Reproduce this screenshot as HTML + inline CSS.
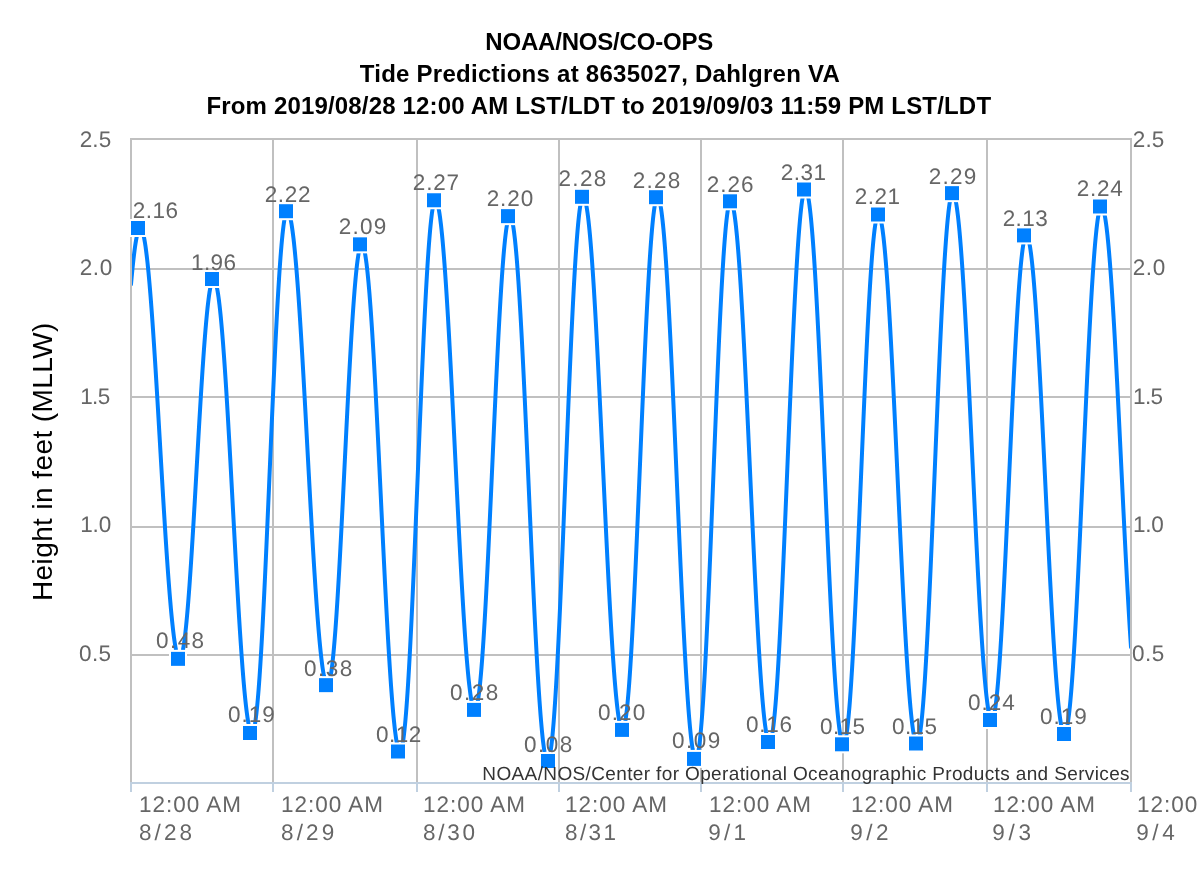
<!DOCTYPE html><html><head><meta charset="utf-8"><title>Tide Predictions at 8635027, Dahlgren VA</title><style>
html,body{margin:0;padding:0;background:#fff;width:1200px;height:874px;overflow:hidden}
svg{display:block;will-change:transform}
text{font-family:"Liberation Sans",sans-serif}
.g{text-rendering:geometricPrecision}
</style></head><body>
<svg width="1200" height="874" viewBox="0 0 1200 874">
<rect x="0" y="0" width="1200" height="874" fill="#fff"/>
<defs><clipPath id="pc"><rect x="132" y="138" width="998" height="646"/></clipPath></defs>
<rect x="130" y="138" width="1002" height="2" fill="#C0C0C0"/>
<rect x="130" y="268" width="1002" height="2" fill="#C0C0C0"/>
<rect x="130" y="396" width="1002" height="2" fill="#C0C0C0"/>
<rect x="130" y="526" width="1002" height="2" fill="#C0C0C0"/>
<rect x="130" y="654" width="1002" height="2" fill="#C0C0C0"/>
<rect x="130" y="138" width="2" height="644" fill="#C0C0C0"/>
<rect x="272" y="138" width="2" height="644" fill="#C0C0C0"/>
<rect x="416" y="138" width="2" height="644" fill="#C0C0C0"/>
<rect x="558" y="138" width="2" height="644" fill="#C0C0C0"/>
<rect x="700" y="138" width="2" height="644" fill="#C0C0C0"/>
<rect x="842" y="138" width="2" height="644" fill="#C0C0C0"/>
<rect x="986" y="138" width="2" height="644" fill="#C0C0C0"/>
<rect x="1130" y="138" width="2" height="644" fill="#C0C0C0"/>
<rect x="130" y="782" width="1002" height="2" fill="#C0D0E0"/>
<rect x="130" y="782" width="2" height="10" fill="#C0D0E0"/>
<rect x="272" y="782" width="2" height="10" fill="#C0D0E0"/>
<rect x="416" y="782" width="2" height="10" fill="#C0D0E0"/>
<rect x="558" y="782" width="2" height="10" fill="#C0D0E0"/>
<rect x="700" y="782" width="2" height="10" fill="#C0D0E0"/>
<rect x="842" y="782" width="2" height="10" fill="#C0D0E0"/>
<rect x="986" y="782" width="2" height="10" fill="#C0D0E0"/>
<rect x="1130" y="782" width="2" height="10" fill="#C0D0E0"/>
<g clip-path="url(#pc)"><path d="M131.00 284.41 L131.50 278.80 L132.00 273.44 L132.50 268.34 L133.00 263.50 L133.50 258.94 L134.00 254.67 L134.50 250.69 L135.00 247.02 L135.50 243.65 L136.00 240.59 L136.50 237.86 L137.00 235.45 L137.50 233.38 L138.00 231.63 L138.50 230.23 L139.00 229.16 L139.50 228.44 L140.00 228.06 L140.30 228.00 L140.50 228.03 L141.00 228.34 L141.50 228.99 L142.00 229.98 L142.50 231.32 L143.00 232.99 L143.50 235.00 L144.00 237.34 L144.50 240.01 L145.00 243.00 L145.50 246.31 L146.00 249.94 L146.50 253.88 L147.00 258.11 L147.50 262.65 L148.00 267.47 L148.50 272.57 L149.00 277.95 L149.50 283.59 L150.00 289.48 L150.50 295.62 L151.00 301.99 L151.50 308.59 L152.00 315.41 L152.50 322.43 L153.00 329.64 L153.50 337.03 L154.00 344.60 L154.50 352.32 L155.00 360.18 L155.50 368.18 L156.00 376.30 L156.50 384.53 L157.00 392.85 L157.50 401.25 L158.00 409.71 L158.50 418.24 L159.00 426.80 L159.50 435.38 L160.00 443.99 L160.50 452.59 L161.00 461.17 L161.50 469.73 L162.00 478.24 L162.50 486.70 L163.00 495.09 L163.50 503.40 L164.00 511.61 L164.50 519.72 L165.00 527.70 L165.50 535.55 L166.00 543.25 L166.50 550.79 L167.00 558.16 L167.50 565.35 L168.00 572.34 L168.50 579.13 L169.00 585.70 L169.50 592.05 L170.00 598.15 L170.50 604.01 L171.00 609.62 L171.50 614.96 L172.00 620.03 L172.50 624.81 L173.00 629.30 L173.50 633.50 L174.00 637.40 L174.50 640.99 L175.00 644.26 L175.50 647.21 L176.00 649.84 L176.50 652.13 L177.00 654.10 L177.50 655.73 L178.00 657.02 L178.50 657.97 L179.00 658.57 L179.50 658.84 L179.63 658.85 L180.00 658.74 L180.50 658.24 L181.00 657.34 L181.50 656.03 L182.00 654.32 L182.50 652.21 L183.00 649.71 L183.50 646.83 L184.00 643.56 L184.50 639.92 L185.00 635.92 L185.50 631.55 L186.00 626.84 L186.50 621.79 L187.00 616.42 L187.50 610.72 L188.00 604.73 L188.50 598.44 L189.00 591.88 L189.50 585.05 L190.00 577.97 L190.50 570.67 L191.00 563.14 L191.50 555.41 L192.00 547.50 L192.50 539.41 L193.00 531.18 L193.50 522.82 L194.00 514.33 L194.50 505.76 L195.00 497.10 L195.50 488.38 L196.00 479.62 L196.50 470.84 L197.00 462.05 L197.50 453.28 L198.00 444.54 L198.50 435.86 L199.00 427.24 L199.50 418.71 L200.00 410.30 L200.50 402.00 L201.00 393.85 L201.50 385.86 L202.00 378.05 L202.50 370.44 L203.00 363.03 L203.50 355.85 L204.00 348.91 L204.50 342.23 L205.00 335.82 L205.50 329.70 L206.00 323.87 L206.50 318.36 L207.00 313.17 L207.50 308.31 L208.00 303.79 L208.50 299.63 L209.00 295.83 L209.50 292.40 L210.00 289.34 L210.50 286.68 L211.00 284.40 L211.50 282.52 L212.00 281.03 L212.50 279.95 L213.00 279.28 L213.50 279.01 L213.58 279.00 L214.00 279.13 L214.50 279.64 L215.00 280.52 L215.50 281.78 L216.00 283.41 L216.50 285.42 L217.00 287.79 L217.50 290.53 L218.00 293.63 L218.50 297.08 L219.00 300.88 L219.50 305.02 L220.00 309.50 L220.50 314.31 L221.00 319.43 L221.50 324.87 L222.00 330.61 L222.50 336.64 L223.00 342.96 L223.50 349.55 L224.00 356.39 L224.50 363.49 L225.00 370.83 L225.50 378.39 L226.00 386.17 L226.50 394.14 L227.00 402.30 L227.50 410.64 L228.00 419.13 L228.50 427.77 L229.00 436.54 L229.50 445.42 L230.00 454.41 L230.50 463.48 L231.00 472.63 L231.50 481.83 L232.00 491.06 L232.50 500.33 L233.00 509.60 L233.50 518.87 L234.00 528.12 L234.50 537.33 L235.00 546.48 L235.50 555.57 L236.00 564.58 L236.50 573.49 L237.00 582.29 L237.50 590.96 L238.00 599.48 L238.50 607.85 L239.00 616.06 L239.50 624.07 L240.00 631.89 L240.50 639.50 L241.00 646.89 L241.50 654.04 L242.00 660.95 L242.50 667.60 L243.00 673.97 L243.50 680.07 L244.00 685.88 L244.50 691.38 L245.00 696.58 L245.50 701.46 L246.00 706.01 L246.50 710.23 L247.00 714.10 L247.50 717.63 L248.00 720.81 L248.50 723.63 L249.00 726.08 L249.50 728.17 L250.00 729.89 L250.50 731.23 L251.00 732.20 L251.50 732.79 L252.00 733.00 L252.03 733.00 L252.50 732.77 L253.00 732.02 L253.50 730.76 L254.00 728.98 L254.50 726.70 L255.00 723.91 L255.50 720.61 L256.00 716.83 L256.50 712.56 L257.00 707.81 L257.50 702.59 L258.00 696.92 L258.50 690.80 L259.00 684.25 L259.50 677.27 L260.00 669.89 L260.50 662.11 L261.00 653.96 L261.50 645.45 L262.00 636.59 L262.50 627.41 L263.00 617.91 L263.50 608.13 L264.00 598.08 L264.50 587.78 L265.00 577.24 L265.50 566.50 L266.00 555.58 L266.50 544.48 L267.00 533.25 L267.50 521.89 L268.00 510.43 L268.50 498.90 L269.00 487.31 L269.50 475.69 L270.00 464.07 L270.50 452.46 L271.00 440.89 L271.50 429.38 L272.00 417.96 L272.50 406.64 L273.00 395.46 L273.50 384.43 L274.00 373.57 L274.50 362.90 L275.00 352.46 L275.50 342.25 L276.00 332.30 L276.50 322.62 L277.00 313.25 L277.50 304.19 L278.00 295.46 L278.50 287.08 L279.00 279.07 L279.50 271.44 L280.00 264.21 L280.50 257.40 L281.00 251.01 L281.50 245.06 L282.00 239.56 L282.50 234.52 L283.00 229.95 L283.50 225.87 L284.00 222.27 L284.50 219.17 L285.00 216.57 L285.50 214.48 L286.00 212.90 L286.50 211.83 L287.00 211.28 L287.28 211.20 L287.50 211.23 L288.00 211.57 L288.50 212.27 L289.00 213.33 L289.50 214.75 L290.00 216.52 L290.50 218.65 L291.00 221.12 L291.50 223.95 L292.00 227.11 L292.50 230.61 L293.00 234.44 L293.50 238.60 L294.00 243.08 L294.50 247.87 L295.00 252.96 L295.50 258.35 L296.00 264.04 L296.50 270.00 L297.00 276.23 L297.50 282.73 L298.00 289.47 L298.50 296.46 L299.00 303.69 L299.50 311.13 L300.00 318.78 L300.50 326.62 L301.00 334.66 L301.50 342.86 L302.00 351.23 L302.50 359.74 L303.00 368.39 L303.50 377.16 L304.00 386.04 L304.50 395.01 L305.00 404.07 L305.50 413.19 L306.00 422.36 L306.50 431.58 L307.00 440.81 L307.50 450.07 L308.00 459.31 L308.50 468.54 L309.00 477.74 L309.50 486.90 L310.00 495.99 L310.50 505.02 L311.00 513.95 L311.50 522.79 L312.00 531.51 L312.50 540.10 L313.00 548.56 L313.50 556.86 L314.00 565.00 L314.50 572.96 L315.00 580.72 L315.50 588.29 L316.00 595.64 L316.50 602.77 L317.00 609.66 L317.50 616.31 L318.00 622.70 L318.50 628.82 L319.00 634.67 L319.50 640.24 L320.00 645.51 L320.50 650.48 L321.00 655.14 L321.50 659.49 L322.00 663.51 L322.50 667.21 L323.00 670.57 L323.50 673.60 L324.00 676.28 L324.50 678.61 L325.00 680.59 L325.50 682.22 L326.00 683.49 L326.50 684.41 L327.00 684.96 L327.50 685.15 L327.51 685.15 L328.00 684.93 L328.50 684.25 L329.00 683.11 L329.50 681.50 L330.00 679.44 L330.50 676.93 L331.00 673.97 L331.50 670.56 L332.00 666.73 L332.50 662.47 L333.00 657.79 L333.50 652.71 L334.00 647.23 L334.50 641.36 L335.00 635.13 L335.50 628.53 L336.00 621.59 L336.50 614.32 L337.00 606.73 L337.50 598.85 L338.00 590.68 L338.50 582.24 L339.00 573.56 L339.50 564.65 L340.00 555.53 L340.50 546.22 L341.00 536.74 L341.50 527.10 L342.00 517.33 L342.50 507.46 L343.00 497.49 L343.50 487.45 L344.00 477.37 L344.50 467.26 L345.00 457.14 L345.50 447.04 L346.00 436.98 L346.50 426.97 L347.00 417.05 L347.50 407.22 L348.00 397.52 L348.50 387.96 L349.00 378.56 L349.50 369.34 L350.00 360.32 L350.50 351.53 L351.00 342.97 L351.50 334.67 L352.00 326.64 L352.50 318.90 L353.00 311.47 L353.50 304.37 L354.00 297.60 L354.50 291.18 L355.00 285.13 L355.50 279.46 L356.00 274.18 L356.50 269.30 L357.00 264.83 L357.50 260.78 L358.00 257.16 L358.50 253.98 L359.00 251.25 L359.50 248.96 L360.00 247.13 L360.50 245.76 L361.00 244.85 L361.50 244.40 L361.73 244.35 L362.00 244.41 L362.50 244.85 L363.00 245.72 L363.50 247.01 L364.00 248.73 L364.50 250.87 L365.00 253.42 L365.50 256.38 L366.00 259.75 L366.50 263.52 L367.00 267.69 L367.50 272.24 L368.00 277.18 L368.50 282.48 L369.00 288.15 L369.50 294.17 L370.00 300.54 L370.50 307.23 L371.00 314.25 L371.50 321.58 L372.00 329.21 L372.50 337.12 L373.00 345.30 L373.50 353.73 L374.00 362.41 L374.50 371.32 L375.00 380.44 L375.50 389.76 L376.00 399.26 L376.50 408.93 L377.00 418.75 L377.50 428.70 L378.00 438.77 L378.50 448.93 L379.00 459.18 L379.50 469.50 L380.00 479.86 L380.50 490.25 L381.00 500.66 L381.50 511.06 L382.00 521.44 L382.50 531.78 L383.00 542.06 L383.50 552.27 L384.00 562.39 L384.50 572.40 L385.00 582.28 L385.50 592.02 L386.00 601.60 L386.50 611.01 L387.00 620.23 L387.50 629.24 L388.00 638.03 L388.50 646.58 L389.00 654.89 L389.50 662.93 L390.00 670.69 L390.50 678.16 L391.00 685.33 L391.50 692.18 L392.00 698.70 L392.50 704.89 L393.00 710.72 L393.50 716.20 L394.00 721.31 L394.50 726.05 L395.00 730.40 L395.50 734.36 L396.00 737.92 L396.50 741.08 L397.00 743.83 L397.50 746.16 L398.00 748.07 L398.50 749.57 L399.00 750.64 L399.50 751.28 L400.00 751.50 L400.00 751.50 L400.50 751.23 L401.00 750.43 L401.50 749.08 L402.00 747.19 L402.50 744.77 L403.00 741.82 L403.50 738.35 L404.00 734.36 L404.50 729.87 L405.00 724.87 L405.50 719.38 L406.00 713.42 L406.50 706.98 L407.00 700.09 L407.50 692.77 L408.00 685.01 L408.50 676.84 L409.00 668.28 L409.50 659.34 L410.00 650.03 L410.50 640.39 L411.00 630.42 L411.50 620.14 L412.00 609.59 L412.50 598.77 L413.00 587.70 L413.50 576.42 L414.00 564.94 L414.50 553.29 L415.00 541.48 L415.50 529.54 L416.00 517.50 L416.50 505.37 L417.00 493.19 L417.50 480.97 L418.00 468.75 L418.50 456.54 L419.00 444.36 L419.50 432.25 L420.00 420.22 L420.50 408.30 L421.00 396.52 L421.50 384.89 L422.00 373.44 L422.50 362.20 L423.00 351.17 L423.50 340.39 L424.00 329.88 L424.50 319.66 L425.00 309.74 L425.50 300.15 L426.00 290.91 L426.50 282.03 L427.00 273.53 L427.50 265.43 L428.00 257.74 L428.50 250.48 L429.00 243.67 L429.50 237.31 L430.00 231.42 L430.50 226.02 L431.00 221.10 L431.50 216.69 L432.00 212.79 L432.50 209.40 L433.00 206.54 L433.50 204.21 L434.00 202.41 L434.50 201.15 L435.00 200.43 L435.41 200.25 L435.50 200.26 L436.00 200.53 L436.50 201.21 L437.00 202.28 L437.50 203.76 L438.00 205.64 L438.50 207.92 L439.00 210.58 L439.50 213.64 L440.00 217.07 L440.50 220.89 L441.00 225.07 L441.50 229.62 L442.00 234.53 L442.50 239.78 L443.00 245.38 L443.50 251.31 L444.00 257.57 L444.50 264.13 L445.00 271.00 L445.50 278.17 L446.00 285.61 L446.50 293.32 L447.00 301.29 L447.50 309.50 L448.00 317.94 L448.50 326.60 L449.00 335.46 L449.50 344.51 L450.00 353.74 L450.50 363.13 L451.00 372.67 L451.50 382.33 L452.00 392.11 L452.50 401.99 L453.00 411.96 L453.50 421.99 L454.00 432.07 L454.50 442.20 L455.00 452.34 L455.50 462.48 L456.00 472.62 L456.50 482.73 L457.00 492.79 L457.50 502.79 L458.00 512.72 L458.50 522.56 L459.00 532.29 L459.50 541.89 L460.00 551.36 L460.50 560.68 L461.00 569.83 L461.50 578.80 L462.00 587.57 L462.50 596.13 L463.00 604.46 L463.50 612.57 L464.00 620.42 L464.50 628.00 L465.00 635.32 L465.50 642.35 L466.00 649.08 L466.50 655.50 L467.00 661.61 L467.50 667.39 L468.00 672.83 L468.50 677.93 L469.00 682.67 L469.50 687.05 L470.00 691.07 L470.50 694.71 L471.00 697.97 L471.50 700.84 L472.00 703.33 L472.50 705.42 L473.00 707.12 L473.50 708.41 L474.00 709.31 L474.50 709.80 L474.86 709.90 L475.00 709.88 L475.50 709.49 L476.00 708.61 L476.50 707.23 L477.00 705.37 L477.50 703.02 L478.00 700.19 L478.50 696.88 L479.00 693.10 L479.50 688.86 L480.00 684.17 L480.50 679.04 L481.00 673.47 L481.50 667.48 L482.00 661.08 L482.50 654.29 L483.00 647.11 L483.50 639.56 L484.00 631.66 L484.50 623.42 L485.00 614.85 L485.50 605.99 L486.00 596.83 L486.50 587.41 L487.00 577.74 L487.50 567.84 L488.00 557.73 L488.50 547.42 L489.00 536.95 L489.50 526.33 L490.00 515.59 L490.50 504.74 L491.00 493.80 L491.50 482.81 L492.00 471.77 L492.50 460.72 L493.00 449.67 L493.50 438.64 L494.00 427.67 L494.50 416.77 L495.00 405.96 L495.50 395.26 L496.00 384.70 L496.50 374.30 L497.00 364.08 L497.50 354.05 L498.00 344.24 L498.50 334.67 L499.00 325.36 L499.50 316.33 L500.00 307.58 L500.50 299.15 L501.00 291.05 L501.50 283.29 L502.00 275.90 L502.50 268.88 L503.00 262.24 L503.50 256.02 L504.00 250.20 L504.50 244.81 L505.00 239.86 L505.50 235.36 L506.00 231.31 L506.50 227.73 L507.00 224.62 L507.50 221.99 L508.00 219.84 L508.50 218.18 L509.00 217.01 L509.50 216.34 L509.93 216.15 L510.00 216.15 L510.50 216.45 L511.00 217.22 L511.50 218.47 L512.00 220.18 L512.50 222.36 L513.00 225.00 L513.50 228.09 L514.00 231.64 L514.50 235.64 L515.00 240.07 L515.50 244.94 L516.00 250.23 L516.50 255.93 L517.00 262.03 L517.50 268.53 L518.00 275.42 L518.50 282.67 L519.00 290.28 L519.50 298.23 L520.00 306.51 L520.50 315.11 L521.00 324.01 L521.50 333.20 L522.00 342.65 L522.50 352.36 L523.00 362.31 L523.50 372.48 L524.00 382.84 L524.50 393.39 L525.00 404.11 L525.50 414.97 L526.00 425.96 L526.50 437.06 L527.00 448.25 L527.50 459.50 L528.00 470.81 L528.50 482.15 L529.00 493.50 L529.50 504.84 L530.00 516.16 L530.50 527.42 L531.00 538.62 L531.50 549.73 L532.00 560.74 L532.50 571.62 L533.00 582.35 L533.50 592.93 L534.00 603.32 L534.50 613.51 L535.00 623.49 L535.50 633.23 L536.00 642.72 L536.50 651.94 L537.00 660.88 L537.50 669.52 L538.00 677.85 L538.50 685.84 L539.00 693.50 L539.50 700.80 L540.00 707.73 L540.50 714.28 L541.00 720.44 L541.50 726.20 L542.00 731.54 L542.50 736.46 L543.00 740.95 L543.50 745.01 L544.00 748.61 L544.50 751.77 L545.00 754.47 L545.50 756.71 L546.00 758.48 L546.50 759.79 L547.00 760.62 L547.50 760.98 L547.63 761.00 L548.00 760.85 L548.50 760.17 L549.00 758.94 L549.50 757.16 L550.00 754.83 L550.50 751.97 L551.00 748.57 L551.50 744.64 L552.00 740.20 L552.50 735.24 L553.00 729.78 L553.50 723.83 L554.00 717.41 L554.50 710.51 L555.00 703.16 L555.50 695.37 L556.00 687.16 L556.50 678.54 L557.00 669.54 L557.50 660.15 L558.00 650.42 L558.50 640.35 L559.00 629.96 L559.50 619.27 L560.00 608.32 L560.50 597.10 L561.00 585.66 L561.50 574.01 L562.00 562.17 L562.50 550.17 L563.00 538.03 L563.50 525.78 L564.00 513.43 L564.50 501.01 L565.00 488.56 L565.50 476.08 L566.00 463.61 L566.50 451.17 L567.00 438.78 L567.50 426.47 L568.00 414.26 L568.50 402.18 L569.00 390.25 L569.50 378.50 L570.00 366.94 L570.50 355.60 L571.00 344.50 L571.50 333.66 L572.00 323.11 L572.50 312.86 L573.00 302.94 L573.50 293.36 L574.00 284.14 L574.50 275.31 L575.00 266.87 L575.50 258.85 L576.00 251.26 L576.50 244.12 L577.00 237.43 L577.50 231.22 L578.00 225.49 L578.50 220.25 L579.00 215.53 L579.50 211.32 L580.00 207.63 L580.50 204.47 L581.00 201.85 L581.50 199.77 L582.00 198.24 L582.50 197.25 L583.00 196.82 L583.14 196.80 L583.50 196.91 L584.00 197.43 L584.50 198.37 L585.00 199.73 L585.50 201.51 L586.00 203.71 L586.50 206.33 L587.00 209.35 L587.50 212.78 L588.00 216.61 L588.50 220.83 L589.00 225.44 L589.50 230.43 L590.00 235.79 L590.50 241.51 L591.00 247.59 L591.50 254.01 L592.00 260.76 L592.50 267.83 L593.00 275.22 L593.50 282.91 L594.00 290.89 L594.50 299.14 L595.00 307.65 L595.50 316.41 L596.00 325.40 L596.50 334.62 L597.00 344.04 L597.50 353.65 L598.00 363.43 L598.50 373.38 L599.00 383.46 L599.50 393.68 L600.00 404.00 L600.50 414.42 L601.00 424.92 L601.50 435.48 L602.00 446.09 L602.50 456.72 L603.00 467.36 L603.50 478.00 L604.00 488.61 L604.50 499.18 L605.00 509.70 L605.50 520.14 L606.00 530.49 L606.50 540.73 L607.00 550.85 L607.50 560.83 L608.00 570.66 L608.50 580.31 L609.00 589.78 L609.50 599.05 L610.00 608.10 L610.50 616.92 L611.00 625.49 L611.50 633.81 L612.00 641.85 L612.50 649.61 L613.00 657.07 L613.50 664.23 L614.00 671.06 L614.50 677.56 L615.00 683.73 L615.50 689.54 L616.00 694.98 L616.50 700.06 L617.00 704.77 L617.50 709.09 L618.00 713.01 L618.50 716.54 L619.00 719.66 L619.50 722.38 L620.00 724.68 L620.50 726.57 L621.00 728.04 L621.50 729.08 L622.00 729.70 L622.48 729.90 L622.50 729.90 L623.00 729.61 L623.50 728.79 L624.00 727.44 L624.50 725.56 L625.00 723.15 L625.50 720.23 L626.00 716.79 L626.50 712.84 L627.00 708.39 L627.50 703.45 L628.00 698.03 L628.50 692.14 L629.00 685.79 L629.50 679.00 L630.00 671.77 L630.50 664.13 L631.00 656.08 L631.50 647.65 L632.00 638.85 L632.50 629.70 L633.00 620.22 L633.50 610.42 L634.00 600.33 L634.50 589.96 L635.00 579.34 L635.50 568.48 L636.00 557.42 L636.50 546.17 L637.00 534.75 L637.50 523.19 L638.00 511.51 L638.50 499.74 L639.00 487.89 L639.50 475.99 L640.00 464.07 L640.50 452.15 L641.00 440.25 L641.50 428.40 L642.00 416.61 L642.50 404.93 L643.00 393.35 L643.50 381.92 L644.00 370.66 L644.50 359.58 L645.00 348.70 L645.50 338.06 L646.00 327.67 L646.50 317.55 L647.00 307.73 L647.50 298.22 L648.00 289.03 L648.50 280.20 L649.00 271.74 L649.50 263.66 L650.00 255.98 L650.50 248.72 L651.00 241.88 L651.50 235.50 L652.00 229.57 L652.50 224.10 L653.00 219.12 L653.50 214.63 L654.00 210.64 L654.50 207.15 L655.00 204.18 L655.50 201.73 L656.00 199.80 L656.50 198.40 L657.00 197.54 L657.50 197.20 L657.56 197.20 L658.00 197.38 L658.50 198.03 L659.00 199.15 L659.50 200.74 L660.00 202.80 L660.50 205.32 L661.00 208.31 L661.50 211.74 L662.00 215.63 L662.50 219.95 L663.00 224.71 L663.50 229.90 L664.00 235.50 L664.50 241.52 L665.00 247.93 L665.50 254.73 L666.00 261.90 L666.50 269.44 L667.00 277.33 L667.50 285.56 L668.00 294.12 L668.50 302.98 L669.00 312.14 L669.50 321.57 L670.00 331.27 L670.50 341.22 L671.00 351.40 L671.50 361.79 L672.00 372.38 L672.50 383.14 L673.00 394.07 L673.50 405.13 L674.00 416.32 L674.50 427.61 L675.00 438.99 L675.50 450.44 L676.00 461.93 L676.50 473.44 L677.00 484.97 L677.50 496.48 L678.00 507.96 L678.50 519.40 L679.00 530.76 L679.50 542.03 L680.00 553.20 L680.50 564.24 L681.00 575.13 L681.50 585.86 L682.00 596.41 L682.50 606.76 L683.00 616.89 L683.50 626.79 L684.00 636.44 L684.50 645.82 L685.00 654.92 L685.50 663.73 L686.00 672.21 L686.50 680.38 L687.00 688.20 L687.50 695.67 L688.00 702.77 L688.50 709.49 L689.00 715.82 L689.50 721.75 L690.00 727.28 L690.50 732.38 L691.00 737.05 L691.50 741.29 L692.00 745.08 L692.50 748.43 L693.00 751.32 L693.50 753.75 L694.00 755.71 L694.50 757.21 L695.00 758.24 L695.50 758.79 L695.84 758.90 L696.00 758.87 L696.50 758.40 L697.00 757.36 L697.50 755.76 L698.00 753.59 L698.50 750.87 L699.00 747.59 L699.50 743.77 L700.00 739.40 L700.50 734.51 L701.00 729.10 L701.50 723.18 L702.00 716.77 L702.50 709.87 L703.00 702.50 L703.50 694.68 L704.00 686.42 L704.50 677.74 L705.00 668.65 L705.50 659.18 L706.00 649.35 L706.50 639.17 L707.00 628.66 L707.50 617.85 L708.00 606.76 L708.50 595.41 L709.00 583.83 L709.50 572.03 L710.00 560.05 L710.50 547.90 L711.00 535.62 L711.50 523.22 L712.00 510.73 L712.50 498.19 L713.00 485.60 L713.50 473.00 L714.00 460.42 L714.50 447.88 L715.00 435.40 L715.50 423.02 L716.00 410.75 L716.50 398.62 L717.00 386.66 L717.50 374.89 L718.00 363.33 L718.50 352.02 L719.00 340.96 L719.50 330.19 L720.00 319.72 L720.50 309.59 L721.00 299.80 L721.50 290.37 L722.00 281.34 L722.50 272.71 L723.00 264.51 L723.50 256.74 L724.00 249.43 L724.50 242.59 L725.00 236.24 L725.50 230.38 L726.00 225.04 L726.50 220.21 L727.00 215.92 L727.50 212.16 L728.00 208.96 L728.50 206.30 L729.00 204.21 L729.50 202.67 L730.00 201.71 L730.50 201.31 L730.60 201.30 L731.00 201.44 L731.50 202.02 L732.00 203.03 L732.50 204.48 L733.00 206.37 L733.50 208.69 L734.00 211.44 L734.50 214.61 L735.00 218.20 L735.50 222.21 L736.00 226.62 L736.50 231.43 L737.00 236.64 L737.50 242.23 L738.00 248.19 L738.50 254.51 L739.00 261.19 L739.50 268.22 L740.00 275.57 L740.50 283.25 L741.00 291.23 L741.50 299.51 L742.00 308.06 L742.50 316.89 L743.00 325.96 L743.50 335.28 L744.00 344.82 L744.50 354.56 L745.00 364.49 L745.50 374.60 L746.00 384.87 L746.50 395.28 L747.00 405.81 L747.50 416.45 L748.00 427.19 L748.50 437.99 L749.00 448.85 L749.50 459.74 L750.00 470.66 L750.50 481.57 L751.00 492.48 L751.50 503.34 L752.00 514.16 L752.50 524.90 L753.00 535.56 L753.50 546.12 L754.00 556.55 L754.50 566.84 L755.00 576.98 L755.50 586.95 L756.00 596.73 L756.50 606.30 L757.00 615.66 L757.50 624.78 L758.00 633.65 L758.50 642.26 L759.00 650.59 L759.50 658.62 L760.00 666.36 L760.50 673.77 L761.00 680.86 L761.50 687.60 L762.00 693.99 L762.50 700.02 L763.00 705.68 L763.50 710.95 L764.00 715.83 L764.50 720.32 L765.00 724.40 L765.50 728.07 L766.00 731.32 L766.50 734.14 L767.00 736.54 L767.50 738.51 L768.00 740.04 L768.50 741.13 L769.00 741.79 L769.49 742.00 L769.50 742.00 L770.00 741.73 L770.50 740.92 L771.00 739.60 L771.50 737.74 L772.00 735.37 L772.50 732.48 L773.00 729.08 L773.50 725.17 L774.00 720.77 L774.50 715.88 L775.00 710.51 L775.50 704.67 L776.00 698.37 L776.50 691.63 L777.00 684.46 L777.50 676.87 L778.00 668.87 L778.50 660.48 L779.00 651.72 L779.50 642.61 L780.00 633.16 L780.50 623.38 L781.00 613.31 L781.50 602.95 L782.00 592.33 L782.50 581.46 L783.00 570.38 L783.50 559.09 L784.00 547.63 L784.50 536.00 L785.00 524.25 L785.50 512.38 L786.00 500.42 L786.50 488.40 L787.00 476.33 L787.50 464.24 L788.00 452.16 L788.50 440.10 L789.00 428.09 L789.50 416.16 L790.00 404.31 L790.50 392.59 L791.00 381.00 L791.50 369.58 L792.00 358.34 L792.50 347.31 L793.00 336.51 L793.50 325.95 L794.00 315.66 L794.50 305.66 L795.00 295.96 L795.50 286.59 L796.00 277.56 L796.50 268.89 L797.00 260.60 L797.50 252.70 L798.00 245.21 L798.50 238.15 L799.00 231.52 L799.50 225.33 L800.00 219.61 L800.50 214.36 L801.00 209.59 L801.50 205.31 L802.00 201.53 L802.50 198.25 L803.00 195.49 L803.50 193.25 L804.00 191.52 L804.50 190.33 L805.00 189.66 L805.38 189.50 L805.50 189.51 L806.00 189.86 L806.50 190.68 L807.00 191.96 L807.50 193.72 L808.00 195.94 L808.50 198.62 L809.00 201.76 L809.50 205.35 L810.00 209.39 L810.50 213.86 L811.00 218.77 L811.50 224.10 L812.00 229.84 L812.50 235.98 L813.00 242.52 L813.50 249.44 L814.00 256.73 L814.50 264.38 L815.00 272.38 L815.50 280.70 L816.00 289.34 L816.50 298.29 L817.00 307.52 L817.50 317.02 L818.00 326.78 L818.50 336.77 L819.00 346.99 L819.50 357.41 L820.00 368.02 L820.50 378.80 L821.00 389.72 L821.50 400.78 L822.00 411.95 L822.50 423.22 L823.00 434.56 L823.50 445.95 L824.00 457.38 L824.50 468.82 L825.00 480.27 L825.50 491.69 L826.00 503.06 L826.50 514.38 L827.00 525.61 L827.50 536.75 L828.00 547.77 L828.50 558.64 L829.00 569.37 L829.50 579.91 L830.00 590.27 L830.50 600.41 L831.00 610.33 L831.50 620.01 L832.00 629.42 L832.50 638.55 L833.00 647.40 L833.50 655.93 L834.00 664.15 L834.50 672.03 L835.00 679.56 L835.50 686.73 L836.00 693.52 L836.50 699.93 L837.00 705.94 L837.50 711.54 L838.00 716.73 L838.50 721.49 L839.00 725.82 L839.50 729.70 L840.00 733.14 L840.50 736.13 L841.00 738.66 L841.50 740.72 L842.00 742.32 L842.50 743.45 L843.00 744.11 L843.45 744.30 L843.50 744.30 L844.00 743.97 L844.50 743.11 L845.00 741.72 L845.50 739.80 L846.00 737.34 L846.50 734.37 L847.00 730.88 L847.50 726.88 L848.00 722.38 L848.50 717.39 L849.00 711.91 L849.50 705.97 L850.00 699.56 L850.50 692.71 L851.00 685.43 L851.50 677.73 L852.00 669.63 L852.50 661.15 L853.00 652.30 L853.50 643.09 L854.00 633.56 L854.50 623.71 L855.00 613.57 L855.50 603.16 L856.00 592.50 L856.50 581.61 L857.00 570.51 L857.50 559.23 L858.00 547.79 L858.50 536.21 L859.00 524.51 L859.50 512.72 L860.00 500.87 L860.50 488.97 L861.00 477.05 L861.50 465.13 L862.00 453.25 L862.50 441.42 L863.00 429.66 L863.50 418.01 L864.00 406.48 L864.50 395.10 L865.00 383.89 L865.50 372.87 L866.00 362.07 L866.50 351.50 L867.00 341.19 L867.50 331.17 L868.00 321.44 L868.50 312.04 L869.00 302.97 L869.50 294.26 L870.00 285.92 L870.50 277.98 L871.00 270.44 L871.50 263.33 L872.00 256.66 L872.50 250.43 L873.00 244.67 L873.50 239.39 L874.00 234.59 L874.50 230.28 L875.00 226.48 L875.50 223.19 L876.00 220.43 L876.50 218.18 L877.00 216.47 L877.50 215.28 L878.00 214.63 L878.36 214.50 L878.50 214.52 L879.00 214.86 L879.50 215.65 L880.00 216.87 L880.50 218.52 L881.00 220.61 L881.50 223.12 L882.00 226.06 L882.50 229.41 L883.00 233.18 L883.50 237.36 L884.00 241.94 L884.50 246.90 L885.00 252.26 L885.50 257.99 L886.00 264.08 L886.50 270.53 L887.00 277.33 L887.50 284.46 L888.00 291.91 L888.50 299.67 L889.00 307.73 L889.50 316.07 L890.00 324.69 L890.50 333.56 L891.00 342.66 L891.50 352.00 L892.00 361.54 L892.50 371.28 L893.00 381.20 L893.50 391.28 L894.00 401.51 L894.50 411.86 L895.00 422.32 L895.50 432.88 L896.00 443.52 L896.50 454.21 L897.00 464.95 L897.50 475.70 L898.00 486.47 L898.50 497.22 L899.00 507.94 L899.50 518.61 L900.00 529.22 L900.50 539.74 L901.00 550.17 L901.50 560.47 L902.00 570.64 L902.50 580.66 L903.00 590.51 L903.50 600.18 L904.00 609.65 L904.50 618.89 L905.00 627.91 L905.50 636.68 L906.00 645.19 L906.50 653.43 L907.00 661.37 L907.50 669.02 L908.00 676.34 L908.50 683.35 L909.00 690.01 L909.50 696.32 L910.00 702.28 L910.50 707.86 L911.00 713.07 L911.50 717.89 L912.00 722.31 L912.50 726.33 L913.00 729.94 L913.50 733.13 L914.00 735.90 L914.50 738.25 L915.00 740.17 L915.50 741.66 L916.00 742.71 L916.50 743.32 L916.95 743.50 L917.00 743.50 L917.50 743.18 L918.00 742.33 L918.50 740.96 L919.00 739.06 L919.50 736.63 L920.00 733.69 L920.50 730.24 L921.00 726.28 L921.50 721.82 L922.00 716.88 L922.50 711.45 L923.00 705.56 L923.50 699.21 L924.00 692.41 L924.50 685.19 L925.00 677.54 L925.50 669.49 L926.00 661.05 L926.50 652.24 L927.00 643.07 L927.50 633.57 L928.00 623.75 L928.50 613.63 L929.00 603.23 L929.50 592.57 L930.00 581.67 L930.50 570.55 L931.00 559.23 L931.50 547.74 L932.00 536.10 L932.50 524.32 L933.00 512.44 L933.50 500.47 L934.00 488.44 L934.50 476.37 L935.00 464.28 L935.50 452.20 L936.00 440.16 L936.50 428.16 L937.00 416.25 L937.50 404.44 L938.00 392.74 L938.50 381.20 L939.00 369.82 L939.50 358.64 L940.00 347.66 L940.50 336.92 L941.00 326.43 L941.50 316.21 L942.00 306.29 L942.50 296.68 L943.00 287.40 L943.50 278.47 L944.00 269.91 L944.50 261.73 L945.00 253.95 L945.50 246.58 L946.00 239.64 L946.50 233.14 L947.00 227.09 L947.50 221.51 L948.00 216.41 L948.50 211.79 L949.00 207.67 L949.50 204.04 L950.00 200.93 L950.50 198.34 L951.00 196.26 L951.50 194.71 L952.00 193.69 L952.50 193.20 L952.71 193.15 L953.00 193.22 L953.50 193.68 L954.00 194.56 L954.50 195.86 L955.00 197.58 L955.50 199.72 L956.00 202.28 L956.50 205.25 L957.00 208.62 L957.50 212.39 L958.00 216.56 L958.50 221.12 L959.00 226.05 L959.50 231.36 L960.00 237.03 L960.50 243.05 L961.00 249.42 L961.50 256.13 L962.00 263.15 L962.50 270.49 L963.00 278.13 L963.50 286.06 L964.00 294.26 L964.50 302.73 L965.00 311.44 L965.50 320.39 L966.00 329.56 L966.50 338.93 L967.00 348.49 L967.50 358.23 L968.00 368.13 L968.50 378.17 L969.00 388.33 L969.50 398.61 L970.00 408.98 L970.50 419.42 L971.00 429.93 L971.50 440.48 L972.00 451.05 L972.50 461.63 L973.00 472.21 L973.50 482.76 L974.00 493.27 L974.50 503.72 L975.00 514.09 L975.50 524.37 L976.00 534.54 L976.50 544.58 L977.00 554.49 L977.50 564.23 L978.00 573.80 L978.50 583.18 L979.00 592.36 L979.50 601.32 L980.00 610.04 L980.50 618.52 L981.00 626.73 L981.50 634.67 L982.00 642.33 L982.50 649.68 L983.00 656.72 L983.50 663.44 L984.00 669.82 L984.50 675.86 L985.00 681.55 L985.50 686.87 L986.00 691.82 L986.50 696.40 L987.00 700.58 L987.50 704.37 L988.00 707.76 L988.50 710.75 L989.00 713.32 L989.50 715.48 L990.00 717.22 L990.50 718.55 L991.00 719.44 L991.50 719.92 L991.81 720.00 L992.00 719.96 L992.50 719.52 L993.00 718.58 L993.50 717.14 L994.00 715.20 L994.50 712.77 L995.00 709.85 L995.50 706.46 L996.00 702.59 L996.50 698.26 L997.00 693.46 L997.50 688.23 L998.00 682.56 L998.50 676.46 L999.00 669.95 L999.50 663.04 L1000.00 655.76 L1000.50 648.10 L1001.00 640.09 L1001.50 631.74 L1002.00 623.08 L1002.50 614.11 L1003.00 604.86 L1003.50 595.35 L1004.00 585.60 L1004.50 575.62 L1005.00 565.44 L1005.50 555.08 L1006.00 544.55 L1006.50 533.89 L1007.00 523.12 L1007.50 512.25 L1008.00 501.30 L1008.50 490.31 L1009.00 479.29 L1009.50 468.27 L1010.00 457.27 L1010.50 446.31 L1011.00 435.42 L1011.50 424.61 L1012.00 413.92 L1012.50 403.35 L1013.00 392.94 L1013.50 382.71 L1014.00 372.67 L1014.50 362.85 L1015.00 353.26 L1015.50 343.94 L1016.00 334.89 L1016.50 326.13 L1017.00 317.69 L1017.50 309.58 L1018.00 301.82 L1018.50 294.42 L1019.00 287.41 L1019.50 280.78 L1020.00 274.57 L1020.50 268.77 L1021.00 263.40 L1021.50 258.48 L1022.00 254.02 L1022.50 250.01 L1023.00 246.48 L1023.50 243.42 L1024.00 240.85 L1024.50 238.77 L1025.00 237.19 L1025.50 236.10 L1026.00 235.51 L1026.34 235.40 L1026.50 235.42 L1027.00 235.77 L1027.50 236.55 L1028.00 237.74 L1028.50 239.36 L1029.00 241.39 L1029.50 243.84 L1030.00 246.70 L1030.50 249.96 L1031.00 253.63 L1031.50 257.68 L1032.00 262.12 L1032.50 266.94 L1033.00 272.13 L1033.50 277.69 L1034.00 283.59 L1034.50 289.84 L1035.00 296.41 L1035.50 303.31 L1036.00 310.52 L1036.50 318.02 L1037.00 325.81 L1037.50 333.87 L1038.00 342.18 L1038.50 350.74 L1039.00 359.52 L1039.50 368.52 L1040.00 377.71 L1040.50 387.09 L1041.00 396.63 L1041.50 406.33 L1042.00 416.15 L1042.50 426.10 L1043.00 436.14 L1043.50 446.26 L1044.00 456.46 L1044.50 466.69 L1045.00 476.96 L1045.50 487.25 L1046.00 497.52 L1046.50 507.78 L1047.00 518.00 L1047.50 528.16 L1048.00 538.24 L1048.50 548.24 L1049.00 558.13 L1049.50 567.89 L1050.00 577.51 L1050.50 586.97 L1051.00 596.26 L1051.50 605.36 L1052.00 614.25 L1052.50 622.93 L1053.00 631.37 L1053.50 639.55 L1054.00 647.48 L1054.50 655.13 L1055.00 662.49 L1055.50 669.54 L1056.00 676.28 L1056.50 682.70 L1057.00 688.78 L1057.50 694.51 L1058.00 699.88 L1058.50 704.89 L1059.00 709.52 L1059.50 713.78 L1060.00 717.64 L1060.50 721.10 L1061.00 724.17 L1061.50 726.82 L1062.00 729.06 L1062.50 730.89 L1063.00 732.30 L1063.50 733.29 L1064.00 733.85 L1064.42 734.00 L1064.50 733.99 L1065.00 733.68 L1065.50 732.88 L1066.00 731.62 L1066.50 729.89 L1067.00 727.68 L1067.50 725.02 L1068.00 721.90 L1068.50 718.32 L1069.00 714.30 L1069.50 709.83 L1070.00 704.94 L1070.50 699.62 L1071.00 693.90 L1071.50 687.76 L1072.00 681.24 L1072.50 674.34 L1073.00 667.07 L1073.50 659.44 L1074.00 651.48 L1074.50 643.19 L1075.00 634.59 L1075.50 625.69 L1076.00 616.51 L1076.50 607.07 L1077.00 597.38 L1077.50 587.47 L1078.00 577.34 L1078.50 567.02 L1079.00 556.53 L1079.50 545.88 L1080.00 535.09 L1080.50 524.19 L1081.00 513.19 L1081.50 502.11 L1082.00 490.98 L1082.50 479.81 L1083.00 468.62 L1083.50 457.43 L1084.00 446.27 L1084.50 435.15 L1085.00 424.10 L1085.50 413.12 L1086.00 402.25 L1086.50 391.50 L1087.00 380.90 L1087.50 370.45 L1088.00 360.19 L1088.50 350.12 L1089.00 340.27 L1089.50 330.65 L1090.00 321.29 L1090.50 312.19 L1091.00 303.37 L1091.50 294.86 L1092.00 286.66 L1092.50 278.80 L1093.00 271.27 L1093.50 264.11 L1094.00 257.32 L1094.50 250.91 L1095.00 244.89 L1095.50 239.28 L1096.00 234.09 L1096.50 229.32 L1097.00 224.98 L1097.50 221.09 L1098.00 217.65 L1098.50 214.66 L1099.00 212.13 L1099.50 210.06 L1100.00 208.46 L1100.50 207.34 L1101.00 206.68 L1101.44 206.50 L1101.50 206.50 L1102.00 206.76 L1102.50 207.42 L1103.00 208.48 L1103.50 209.95 L1104.00 211.82 L1104.50 214.09 L1105.00 216.76 L1105.50 219.82 L1106.00 223.26 L1106.50 227.08 L1107.00 231.28 L1107.50 235.84 L1108.00 240.77 L1108.50 246.05 L1109.00 251.68 L1109.50 257.64 L1110.00 263.93 L1110.50 270.53 L1111.00 277.44 L1111.50 284.65 L1112.00 292.15 L1112.50 299.91 L1113.00 307.94 L1113.50 316.21 L1114.00 324.72 L1114.50 333.46 L1115.00 342.40 L1115.50 351.53 L1116.00 360.84 L1116.50 370.32 L1117.00 379.95 L1117.50 389.72 L1118.00 399.61 L1118.50 409.60 L1119.00 419.68 L1119.50 429.83 L1120.00 440.04 L1120.50 450.29 L1121.00 460.57 L1121.50 470.86 L1122.00 481.14 L1122.50 491.39 L1123.00 501.61 L1123.50 511.77 L1124.00 521.87 L1124.50 531.87 L1125.00 541.78 L1125.50 551.56 L1126.00 561.21 L1126.50 570.72 L1127.00 580.06 L1127.50 589.22 L1128.00 598.19 L1128.50 606.96 L1129.00 615.50 L1129.50 623.81 L1130.00 631.88 L1130.50 639.68 L1131.00 647.22" fill="none" stroke="#0080FF" stroke-width="4" stroke-linejoin="round" stroke-linecap="round"/></g>
<rect x="130" y="220.00" width="16" height="16" fill="#0080FF" stroke="#FFFFFF" stroke-width="2"/>
<rect x="170" y="650.85" width="16" height="16" fill="#0080FF" stroke="#FFFFFF" stroke-width="2"/>
<rect x="204" y="271.00" width="16" height="16" fill="#0080FF" stroke="#FFFFFF" stroke-width="2"/>
<rect x="242" y="725.00" width="16" height="16" fill="#0080FF" stroke="#FFFFFF" stroke-width="2"/>
<rect x="278" y="203.20" width="16" height="16" fill="#0080FF" stroke="#FFFFFF" stroke-width="2"/>
<rect x="318" y="677.15" width="16" height="16" fill="#0080FF" stroke="#FFFFFF" stroke-width="2"/>
<rect x="352" y="236.35" width="16" height="16" fill="#0080FF" stroke="#FFFFFF" stroke-width="2"/>
<rect x="390" y="743.50" width="16" height="16" fill="#0080FF" stroke="#FFFFFF" stroke-width="2"/>
<rect x="426" y="192.25" width="16" height="16" fill="#0080FF" stroke="#FFFFFF" stroke-width="2"/>
<rect x="466" y="701.90" width="16" height="16" fill="#0080FF" stroke="#FFFFFF" stroke-width="2"/>
<rect x="500" y="208.15" width="16" height="16" fill="#0080FF" stroke="#FFFFFF" stroke-width="2"/>
<rect x="540" y="753.00" width="16" height="16" fill="#0080FF" stroke="#FFFFFF" stroke-width="2"/>
<rect x="574" y="188.80" width="16" height="16" fill="#0080FF" stroke="#FFFFFF" stroke-width="2"/>
<rect x="614" y="721.90" width="16" height="16" fill="#0080FF" stroke="#FFFFFF" stroke-width="2"/>
<rect x="648" y="189.20" width="16" height="16" fill="#0080FF" stroke="#FFFFFF" stroke-width="2"/>
<rect x="686" y="750.90" width="16" height="16" fill="#0080FF" stroke="#FFFFFF" stroke-width="2"/>
<rect x="722" y="193.30" width="16" height="16" fill="#0080FF" stroke="#FFFFFF" stroke-width="2"/>
<rect x="760" y="734.00" width="16" height="16" fill="#0080FF" stroke="#FFFFFF" stroke-width="2"/>
<rect x="796" y="181.50" width="16" height="16" fill="#0080FF" stroke="#FFFFFF" stroke-width="2"/>
<rect x="834" y="736.30" width="16" height="16" fill="#0080FF" stroke="#FFFFFF" stroke-width="2"/>
<rect x="870" y="206.50" width="16" height="16" fill="#0080FF" stroke="#FFFFFF" stroke-width="2"/>
<rect x="908" y="735.50" width="16" height="16" fill="#0080FF" stroke="#FFFFFF" stroke-width="2"/>
<rect x="944" y="185.15" width="16" height="16" fill="#0080FF" stroke="#FFFFFF" stroke-width="2"/>
<rect x="982" y="712.00" width="16" height="16" fill="#0080FF" stroke="#FFFFFF" stroke-width="2"/>
<rect x="1016" y="227.40" width="16" height="16" fill="#0080FF" stroke="#FFFFFF" stroke-width="2"/>
<rect x="1056" y="726.00" width="16" height="16" fill="#0080FF" stroke="#FFFFFF" stroke-width="2"/>
<rect x="1092" y="198.50" width="16" height="16" fill="#0080FF" stroke="#FFFFFF" stroke-width="2"/>
<text class="g" x="132.67" y="218.00" font-size="22.5" fill="#666666" textLength="45.42" lengthAdjust="spacing">2.16</text>
<text class="g" x="156.02" y="648.00" font-size="22.5" fill="#666666" textLength="48.06" lengthAdjust="spacing">0.48</text>
<text class="g" x="191.09" y="270.00" font-size="22.5" fill="#666666" textLength="44.90" lengthAdjust="spacing">1.96</text>
<text class="g" x="228.02" y="722.00" font-size="22.5" fill="#666666" textLength="46.84" lengthAdjust="spacing">0.19</text>
<text class="g" x="264.67" y="202.00" font-size="22.5" fill="#666666" textLength="45.76" lengthAdjust="spacing">2.22</text>
<text class="g" x="304.02" y="676.00" font-size="22.5" fill="#666666" textLength="48.16" lengthAdjust="spacing">0.38</text>
<text class="g" x="338.77" y="234.00" font-size="22.5" fill="#666666" textLength="47.50" lengthAdjust="spacing">2.09</text>
<text class="g" x="376.02" y="742.00" font-size="22.5" fill="#666666" textLength="45.18" lengthAdjust="spacing">0.12</text>
<text class="g" x="412.87" y="190.00" font-size="22.5" fill="#666666" textLength="46.16" lengthAdjust="spacing">2.27</text>
<text class="g" x="450.02" y="700.00" font-size="22.5" fill="#666666" textLength="48.16" lengthAdjust="spacing">0.28</text>
<text class="g" x="486.67" y="206.00" font-size="22.5" fill="#666666" textLength="46.51" lengthAdjust="spacing">2.20</text>
<text class="g" x="524.02" y="752.00" font-size="22.5" fill="#666666" textLength="48.16" lengthAdjust="spacing">0.08</text>
<text class="g" x="558.57" y="186.00" font-size="22.5" fill="#666666" textLength="47.61" lengthAdjust="spacing">2.28</text>
<text class="g" x="598.02" y="720.00" font-size="22.5" fill="#666666" textLength="47.16" lengthAdjust="spacing">0.20</text>
<text class="g" x="632.77" y="188.00" font-size="22.5" fill="#666666" textLength="47.41" lengthAdjust="spacing">2.28</text>
<text class="g" x="672.02" y="748.00" font-size="22.5" fill="#666666" textLength="48.24" lengthAdjust="spacing">0.09</text>
<text class="g" x="706.67" y="192.00" font-size="22.5" fill="#666666" textLength="46.82" lengthAdjust="spacing">2.26</text>
<text class="g" x="746.02" y="732.00" font-size="22.5" fill="#666666" textLength="46.07" lengthAdjust="spacing">0.16</text>
<text class="g" x="780.67" y="180.00" font-size="22.5" fill="#666666" textLength="45.43" lengthAdjust="spacing">2.31</text>
<text class="g" x="820.02" y="734.00" font-size="22.5" fill="#666666" textLength="44.92" lengthAdjust="spacing">0.15</text>
<text class="g" x="854.67" y="204.00" font-size="22.5" fill="#666666" textLength="45.43" lengthAdjust="spacing">2.21</text>
<text class="g" x="892.02" y="734.00" font-size="22.5" fill="#666666" textLength="44.92" lengthAdjust="spacing">0.15</text>
<text class="g" x="928.67" y="184.00" font-size="22.5" fill="#666666" textLength="47.60" lengthAdjust="spacing">2.29</text>
<text class="g" x="968.02" y="710.00" font-size="22.5" fill="#666666" textLength="46.74" lengthAdjust="spacing">0.24</text>
<text class="g" x="1002.67" y="226.00" font-size="22.5" fill="#666666" textLength="45.12" lengthAdjust="spacing">2.13</text>
<text class="g" x="1040.02" y="724.00" font-size="22.5" fill="#666666" textLength="46.84" lengthAdjust="spacing">0.19</text>
<text class="g" x="1076.67" y="196.00" font-size="22.5" fill="#666666" textLength="46.09" lengthAdjust="spacing">2.24</text>
<text class="g" x="79.67" y="147.00" font-size="22.5" fill="#666666" textLength="31.48" lengthAdjust="spacing">2.5</text>
<text class="g" x="1132.67" y="147.00" font-size="22.5" fill="#666666" textLength="31.68" lengthAdjust="spacing">2.5</text>
<text class="g" x="79.67" y="274.60" font-size="22.5" fill="#666666" textLength="32.51" lengthAdjust="spacing">2.0</text>
<text class="g" x="1132.67" y="274.60" font-size="22.5" fill="#666666" textLength="32.51" lengthAdjust="spacing">2.0</text>
<text class="g" x="80.29" y="403.80" font-size="22.5" fill="#666666" textLength="29.86" lengthAdjust="spacing">1.5</text>
<text class="g" x="1133.09" y="403.80" font-size="22.5" fill="#666666" textLength="29.86" lengthAdjust="spacing">1.5</text>
<text class="g" x="80.19" y="531.60" font-size="22.5" fill="#666666" textLength="30.99" lengthAdjust="spacing">1.0</text>
<text class="g" x="1133.09" y="531.60" font-size="22.5" fill="#666666" textLength="30.69" lengthAdjust="spacing">1.0</text>
<text class="g" x="79.12" y="660.80" font-size="22.5" fill="#666666" textLength="32.02" lengthAdjust="spacing">0.5</text>
<text class="g" x="1132.02" y="660.80" font-size="22.5" fill="#666666" textLength="32.32" lengthAdjust="spacing">0.5</text>
<text class="g" x="139.09" y="812.00" font-size="22.5" fill="#666666" textLength="101.86" lengthAdjust="spacing">12:00 AM</text>
<text class="g" x="139.02" y="840.00" font-size="22.5" fill="#666666" textLength="53.06" lengthAdjust="spacing">8/28</text>
<text class="g" x="281.09" y="812.00" font-size="22.5" fill="#666666" textLength="101.86" lengthAdjust="spacing">12:00 AM</text>
<text class="g" x="281.02" y="840.00" font-size="22.5" fill="#666666" textLength="53.14" lengthAdjust="spacing">8/29</text>
<text class="g" x="423.09" y="812.00" font-size="22.5" fill="#666666" textLength="101.86" lengthAdjust="spacing">12:00 AM</text>
<text class="g" x="423.02" y="840.00" font-size="22.5" fill="#666666" textLength="52.06" lengthAdjust="spacing">8/30</text>
<text class="g" x="565.09" y="812.00" font-size="22.5" fill="#666666" textLength="101.86" lengthAdjust="spacing">12:00 AM</text>
<text class="g" x="565.02" y="840.00" font-size="22.5" fill="#666666" textLength="50.98" lengthAdjust="spacing">8/31</text>
<text class="g" x="709.09" y="812.00" font-size="22.5" fill="#666666" textLength="101.86" lengthAdjust="spacing">12:00 AM</text>
<text class="g" x="708.35" y="840.00" font-size="22.5" fill="#666666" textLength="37.65" lengthAdjust="spacing">9/1</text>
<text class="g" x="851.09" y="812.00" font-size="22.5" fill="#666666" textLength="101.86" lengthAdjust="spacing">12:00 AM</text>
<text class="g" x="850.35" y="840.00" font-size="22.5" fill="#666666" textLength="38.19" lengthAdjust="spacing">9/2</text>
<text class="g" x="993.09" y="812.00" font-size="22.5" fill="#666666" textLength="101.86" lengthAdjust="spacing">12:00 AM</text>
<text class="g" x="992.35" y="840.00" font-size="22.5" fill="#666666" textLength="38.74" lengthAdjust="spacing">9/3</text>
<text class="g" x="1137.09" y="812.00" font-size="22.5" fill="#666666" textLength="101.86" lengthAdjust="spacing">12:00 AM</text>
<text class="g" x="1136.35" y="840.00" font-size="22.5" fill="#666666" textLength="38.31" lengthAdjust="spacing">9/4</text>
<text class="g" x="482.34" y="779.50" font-size="19" fill="#333333" textLength="647.25" lengthAdjust="spacing">NOAA/NOS/Center for Operational Oceanographic Products and Services</text>
<text x="485.29" y="50.00" font-size="24" font-weight="bold" fill="#000" textLength="227.94" lengthAdjust="spacing">NOAA/NOS/CO-OPS</text>
<text x="359.73" y="82.00" font-size="24" font-weight="bold" fill="#000" textLength="480.10" lengthAdjust="spacing">Tide Predictions at 8635027, Dahlgren VA</text>
<text x="206.39" y="114.00" font-size="24" font-weight="bold" fill="#000" textLength="784.66" lengthAdjust="spacing">From 2019/08/28 12:00 AM LST/LDT to 2019/09/03 11:59 PM LST/LDT</text>
<text x="-2.30" y="0.00" font-size="28" fill="#000" textLength="278.43" lengthAdjust="spacing" transform="translate(52,598.8) rotate(-90)">Height in feet (MLLW)</text>
</svg></body></html>
